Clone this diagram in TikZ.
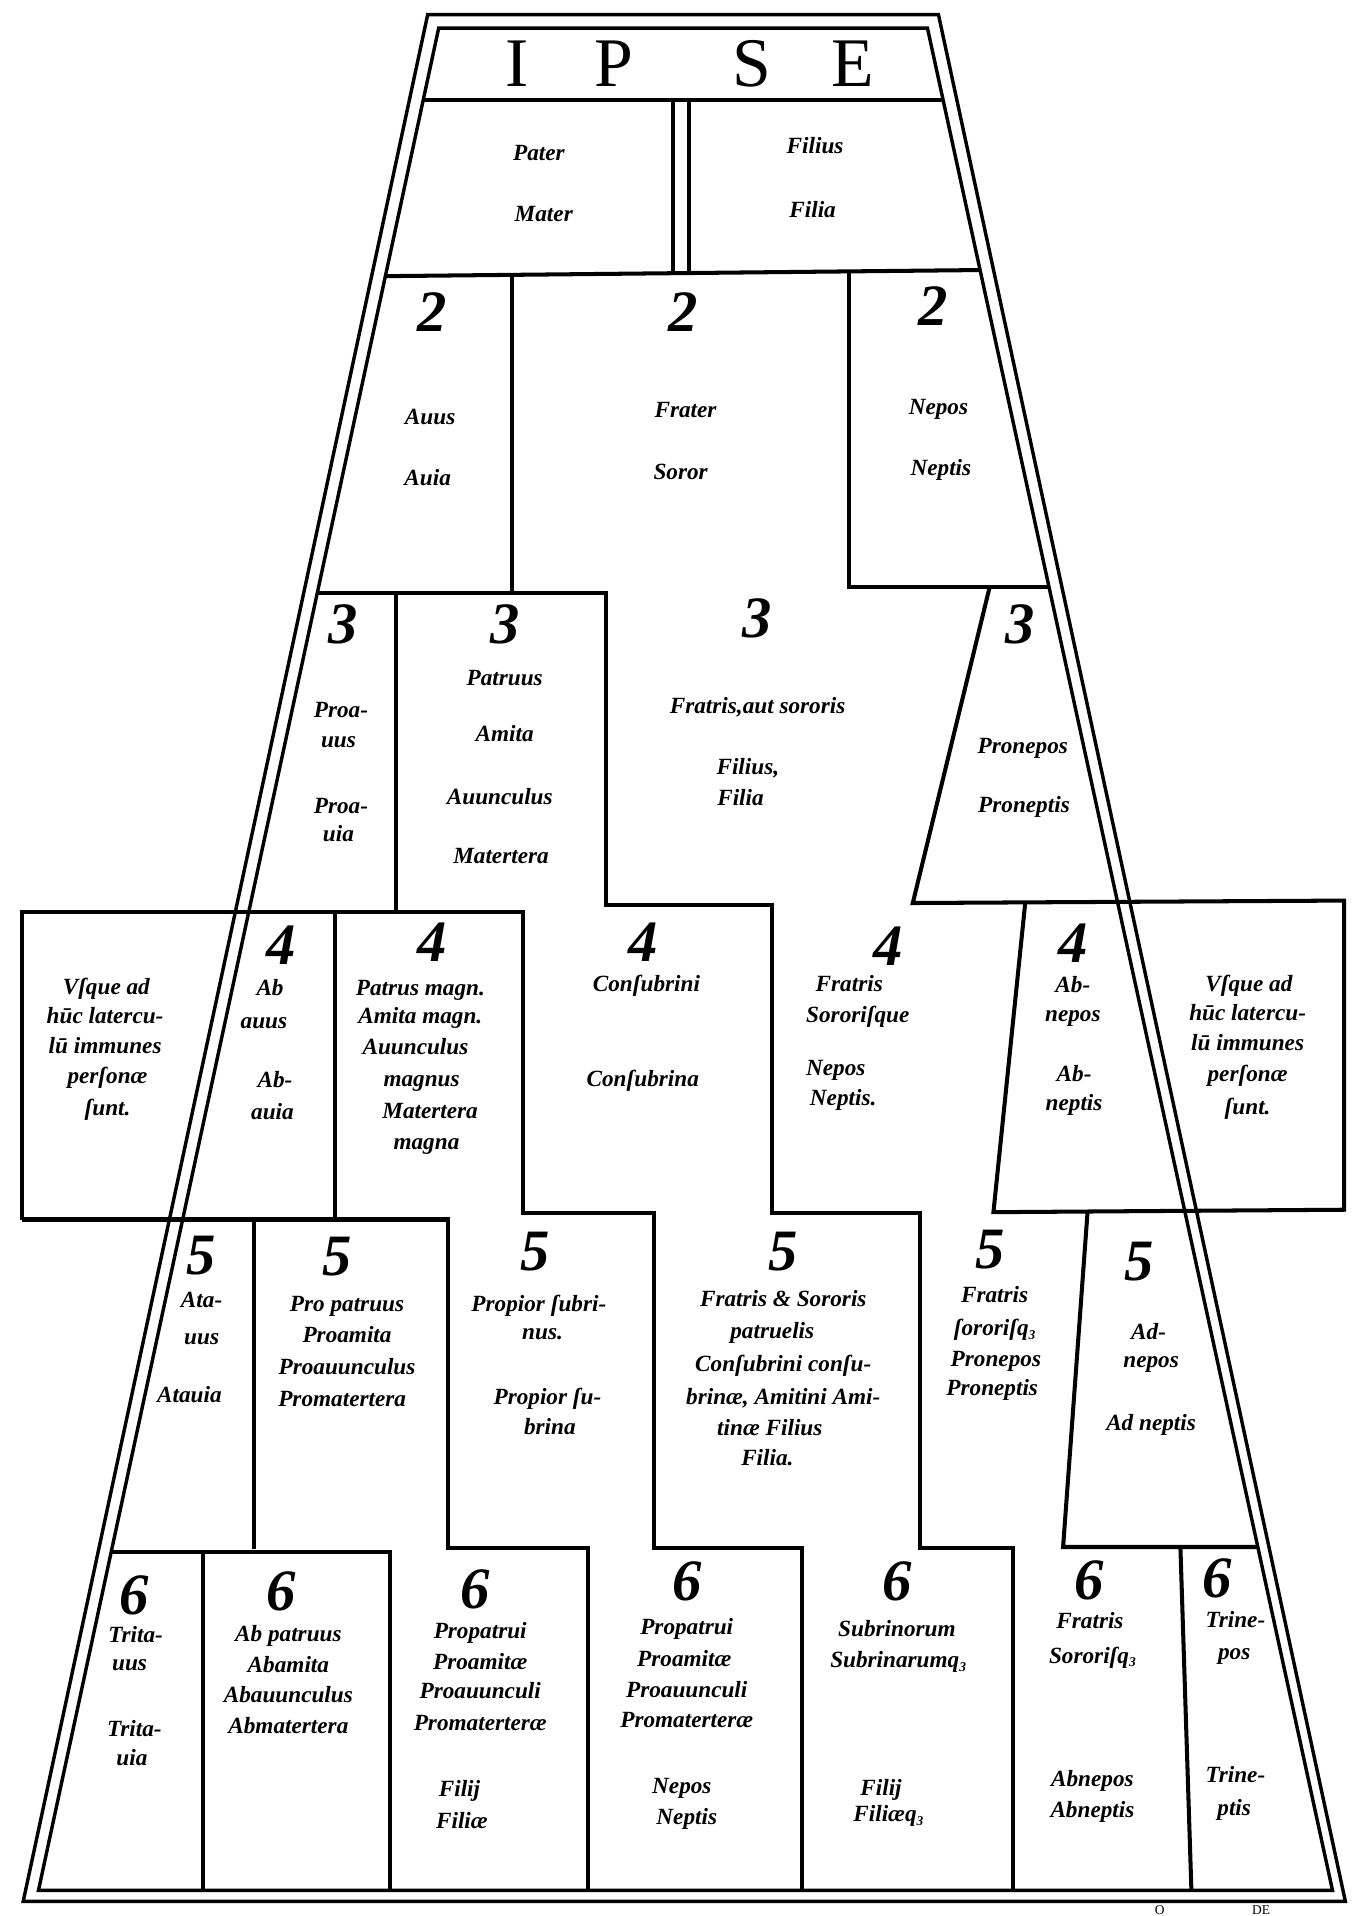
\documentclass[tikz,border=0pt]{standalone}
\usepackage{fontspec}
\setmainfont{Liberation Serif}
\newcounter{tn}
\newcommand{\tl}[3]{\stepcounter{tn}\node[txt] (t\arabic{tn}) at (#1,{#2+6}) {#3};}
\newcommand{\dg}[3]{\stepcounter{tn}\node[dig] (d\arabic{tn}) at (#1,{#2+17}) {#3};}
\newcommand{\qz}{q\raisebox{-0.35ex}{\fontsize{11}{11}\selectfont 3}}
\begin{document}
\begin{tikzpicture}[x=1pt,y=-1pt,
  declare function={xl(\x)=359-0.2149*(\x-23); xr(\x)=759+0.2175*(\x-23);},
  ln/.style={line width=3.3pt,line join=miter},
  bd/.style={line width=2.8pt,line join=miter},
  txt/.style={font=\fontsize{19}{22}\selectfont\bfseries\itshape,anchor=base,inner sep=0pt},
  dig/.style={font=\fontsize{48}{48}\selectfont\bfseries\itshape,anchor=base,inner sep=0pt},
  ipse/.style={font=\fontsize{57}{57}\selectfont,anchor=base,inner sep=0pt}]
\useasboundingbox (0,0) rectangle (1114,1568);
\fill[white] (0,0) rectangle (1114,1568);
% borders
\draw[bd] (350,12) -- (768,12) -- (1101,1556) -- (19,1556) -- cycle;
\draw[bd] (359,23) -- (759,23) -- ({xr(1547)},1547) -- ({xl(1547)},1547) -- cycle;
% top rows
\draw[ln] ({xl(82)},82) -- ({xr(82)},82);
\draw[ln] (551,82) -- (551,224);
\draw[ln] (564,82) -- (564,223);
\draw[ln] ({xl(226)},226) -- ({xr(221)},221);
\draw[ln] (419,225) -- (419,485);
\draw[ln] (695,222) -- (695,480) -- ({xr(480)},480);
% staircase paths
\draw[ln] ({xl(485)},485) -- (496,485) -- (496,741) -- (632,741) -- (632,993) -- (753,993) -- (753,1267) -- (829,1267) -- (829,1547);
\draw[ln] (18,998) -- (18,746) -- (428,746) -- (428,993) -- (535,993) -- (535,1267) -- (656,1267) -- (656,1547);
\draw[ln] (18,998) -- (367,998) -- (367,1267) -- (481,1267) -- (481,1547);
\draw[ln] ({xl(1270)},1270) -- (319,1270) -- (319,1547);
\draw[ln] (324,485) -- (324,746);
\draw[ln] (274,746) -- (274,998);
\draw[ln] (208,998) -- (208,1268);
\draw[ln] (166,1270) -- (166,1547);
% right side
\draw[ln] (810,480) -- (747,739) -- (1100,737) -- (1100,990) -- (813,992) -- (839,739);
\draw[ln] (890,992) -- (870,1266) -- ({xr(1266)},1266);
\draw[ln] (966,1266) -- (975,1547);
% IPSE
\node[ipse] (i1) at (423,71) {I};
\node[ipse] (i2) at (502,71) {P};
\node[ipse] (i3) at (615,71) {S};
\node[ipse] (i4) at (698,71) {E};
% row 1.5
\tl{441}{125}{Pater} \tl{445}{175}{Mater} \tl{667}{120}{Filius} \tl{665}{172}{Filia}
% row 2
\dg{354}{254}{2} \dg{559}{254}{2} \dg{764}{249}{2}
\tl{352}{341}{Auus} \tl{350}{391}{Auia} \tl{561}{336}{Frater} \tl{557}{386}{Soror}
\tl{768}{333}{Nepos} \tl{770}{383}{Neptis}
% row 3
\dg{281}{510}{3} \dg{413}{510}{3} \dg{620}{505}{3} \dg{835}{510}{3}
\tl{279}{581}{Proa-} \tl{277}{606}{uus} \tl{279}{660}{Proa-} \tl{277}{683}{uia}
\tl{413}{555}{Patruus} \tl{413}{601}{Amita} \tl{409}{652}{Auunculus} \tl{410}{701}{Matertera}
\tl{620}{578}{Fratris,aut sororis} \tl{612}{628}{Filius,} \tl{606}{653}{Filia}
\tl{837}{611}{Pronepos} \tl{838}{659}{Proneptis}
% row 4
\tl{87}{808}{Vſque ad} \tl{86}{832}{hūc latercu-} \tl{86}{856}{lū immunes} \tl{88}{881}{perſonæ} \tl{88}{907}{ſunt.}
\dg{230}{772}{4} \tl{221}{809}{Ab} \tl{216}{836}{auus} \tl{225}{884}{Ab-} \tl{223}{910}{auia}
\dg{354}{770}{4} \tl{344}{809}{Patrus magn.} \tl{344}{832}{Amita magn.} \tl{340}{857}{Auunculus}
\tl{345}{883}{magnus} \tl{352}{909}{Matertera} \tl{349}{935}{magna}
\dg{526}{770}{4} \tl{529}{805}{Conſubrini} \tl{526}{883}{Conſubrina}
\dg{727}{773}{4} \tl{695}{805}{Fratris} \tl{702}{831}{Sororiſque} \tl{684}{874}{Nepos} \tl{690}{899}{Neptis.}
\dg{878}{771}{4} \tl{878}{806}{Ab-} \tl{878}{830}{nepos} \tl{879}{879}{Ab-} \tl{879}{903}{neptis}
\tl{1022}{805}{Vſque ad} \tl{1021}{829}{hūc latercu-} \tl{1021}{854}{lū immunes} \tl{1021}{879}{perſonæ} \tl{1021}{906}{ſunt.}
% row 5
\dg{165}{1026}{5} \tl{165}{1064}{Ata-} \tl{165}{1094}{uus} \tl{155}{1142}{Atauia}
\dg{276}{1027}{5} \tl{284}{1067}{Pro patruus} \tl{284}{1093}{Proamita} \tl{284}{1119}{Proauunculus} \tl{280}{1145}{Promatertera}
\dg{438}{1023}{5} \tl{441}{1067}{Propior ſubri-} \tl{444}{1090}{nus.} \tl{448}{1143}{Propior ſu-} \tl{450}{1168}{brina}
\dg{641}{1023}{5} \tl{641}{1063}{Fratris \& Sororis} \tl{632}{1089}{patruelis} \tl{641}{1116}{Conſubrini conſu-}
\tl{641}{1143}{brinæ, Amitini Ami-} \tl{630}{1169}{tinæ Filius} \tl{628}{1193}{Filia.}
\dg{810}{1021}{5} \tl{814}{1060}{Fratris} \tl{814}{1087}{ſororiſ\qz} \tl{815}{1112}{Pronepos} \tl{812}{1136}{Proneptis}
\dg{932}{1031}{5} \tl{940}{1090}{Ad-} \tl{942}{1113}{nepos} \tl{942}{1165}{Ad neptis}
% row 6
\dg{110}{1304}{6} \tl{111}{1338}{Trita-} \tl{106}{1361}{uus} \tl{110}{1415}{Trita-} \tl{108}{1439}{uia}
\dg{230}{1301}{6} \tl{236}{1337}{Ab patruus} \tl{236}{1363}{Abamita} \tl{236}{1387}{Abauunculus} \tl{236}{1413}{Abmatertera}
\dg{389}{1299}{6} \tl{393}{1335}{Propatrui} \tl{393}{1360}{Proamitæ} \tl{393}{1384}{Proauunculi} \tl{393}{1410}{Promaterteræ}
\tl{376}{1464}{Filij} \tl{378}{1490}{Filiæ}
\dg{562}{1293}{6} \tl{562}{1332}{Propatrui} \tl{560}{1358}{Proamitæ} \tl{562}{1383}{Proauunculi} \tl{562}{1408}{Promaterteræ}
\tl{558}{1462}{Nepos} \tl{562}{1487}{Neptis}
\dg{734}{1293}{6} \tl{734}{1333}{Subrinorum} \tl{735}{1359}{Subrinarum\qz} \tl{721}{1463}{Filij} \tl{727}{1485}{Filiæ\qz}
\dg{891}{1292}{6} \tl{892}{1327}{Fratris} \tl{894}{1355}{Sororiſ\qz} \tl{894}{1456}{Abnepos} \tl{894}{1481}{Abneptis}
\dg{996}{1290}{6} \tl{1011}{1326}{Trine-} \tl{1010}{1352}{pos} \tl{1011}{1453}{Trine-} \tl{1010}{1480}{ptis}
% catchword at the foot of the page
\node[font=\fontsize{11}{11}\selectfont,anchor=base,inner sep=0pt] (cw1) at (949,1567) {O};
\node[font=\fontsize{11}{11}\selectfont,anchor=base,inner sep=0pt] (cw2) at (1032,1567) {DE};
\end{tikzpicture}
\end{document}
